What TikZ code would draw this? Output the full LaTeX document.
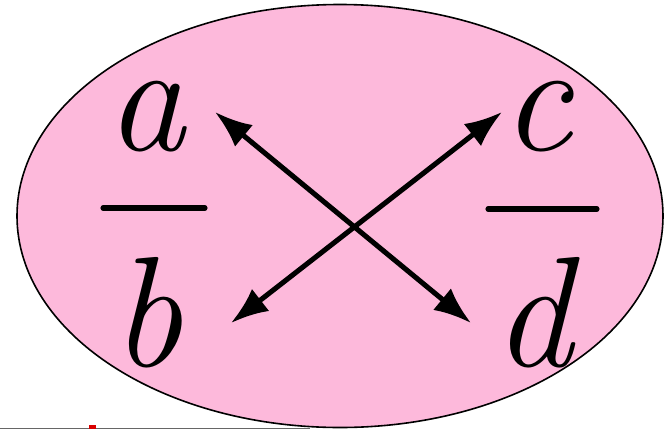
\documentclass[tikz,border=0pt]{standalone}
\usepackage{fontspec}
\usepackage{tikz}
\usetikzlibrary{arrows.meta}
\definecolor{rosa}{RGB}{253,185,219}

\begin{document}
\begin{tikzpicture}[x=0.75pt, y=-0.75pt,
			buchstabe/.style={inner sep=0pt, outer sep=0pt, anchor=base, font=\fontsize{118}{118}\selectfont\itshape},
			bruch/.style={line width=3.8pt, line cap=round},
			kreuz/.style={line width=3.8pt, {Latex[length=28pt, width=21pt]}-{Latex[length=28pt, width=21pt]}}]
			%Rahmen festlegen
			\useasboundingbox (0,0) rectangle (668,429);
			% Ellipse zeichnen
			\draw[fill=rosa, line width=1.2pt] (340,216) ellipse [x radius=323, y radius=211.5];
			% Buchstaben
			\node[buchstabe] (a) at (146,150) {a};
			\node[buchstabe] (b) at (147,366) {b};
			\node[buchstabe] (c) at (537,150) {c};
			\node[buchstabe] (d) at (533,366) {d};
			% Bruchstriche
			\draw[bruch] (103,208) -- (205,208);
			\draw[bruch] (488,209) -- (597,209);
			% Pfeilspitzen
			\coordinate (ta) at (215,112);
			\coordinate (tb) at (231,323);
			\coordinate (tc) at (502,112);
			\coordinate (td) at (471,323);
			\draw[kreuz] (ta) -- (td);
			\draw[kreuz] (tb) -- (tc);
			%Rest unten
			\draw[color=gray!80!black, line width=0.6pt] (0,428.5) -- (310,428.5);
			\fill[red!85!black] (89,425) rectangle (96,429);
		\end{tikzpicture}
\end{document}
